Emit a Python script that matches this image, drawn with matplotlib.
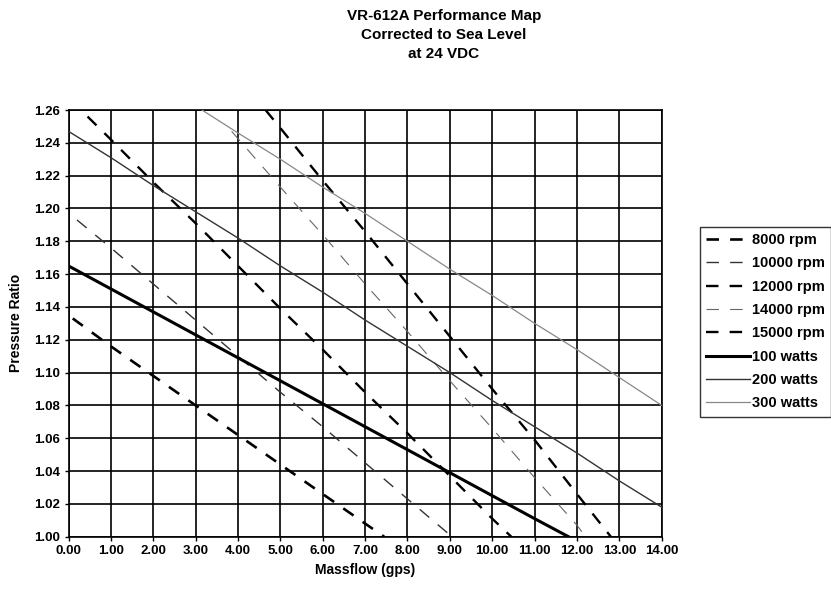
import matplotlib
matplotlib.use("Agg")
import matplotlib.pyplot as plt
from matplotlib.ticker import MultipleLocator, FormatStrFormatter

plt.rcParams['font.family'] = ['Liberation Sans', 'DejaVu Sans']
plt.rcParams['font.weight'] = 'bold'
plt.rcParams['lines.scale_dashes'] = False

# Constant-speed lines (massflow in gps, pressure ratio)
rpm_8000_x = [0.1, 1, 2, 3, 4, 5, 6, 7, 7.45]
rpm_8000_y = [1.133, 1.116, 1.098, 1.080, 1.062, 1.044, 1.026, 1.008, 1.000]

rpm_10000_x = [0.2, 1, 2, 3, 4, 5, 6, 7, 8, 9.05]
rpm_10000_y = [1.193, 1.176, 1.154, 1.132, 1.110, 1.088, 1.067, 1.045, 1.023, 1.000]

rpm_12000_x = [0.45, 1, 2, 3, 4, 5, 6, 7, 8, 9, 10, 10.45]
rpm_12000_y = [1.256, 1.242, 1.216, 1.191, 1.165, 1.139, 1.114, 1.088, 1.063, 1.037, 1.011, 1.000]

rpm_14000_x = [3.85, 5, 6, 7, 8, 9, 10, 11, 12, 12.2]
rpm_14000_y = [1.247, 1.213, 1.184, 1.154, 1.125, 1.095, 1.066, 1.036, 1.007, 1.000]

rpm_15000_x = [4.65, 5, 6, 7, 8, 9, 10, 11, 12, 12.8]
rpm_15000_y = [1.260, 1.249, 1.217, 1.186, 1.154, 1.122, 1.090, 1.059, 1.026, 1.000]

# Constant-power lines
w100_x = [0, 1, 2, 3, 4, 5, 6, 7, 8, 9, 10, 11, 11.8]
w100_y = [1.165, 1.151, 1.137, 1.123, 1.109, 1.095, 1.081, 1.067, 1.053, 1.039, 1.025, 1.011, 1.000]

w200_x = [0, 1, 2, 3, 4, 5, 6, 7, 8, 9, 10, 11, 12, 13, 14]
w200_y = [1.247, 1.231, 1.214, 1.198, 1.182, 1.165, 1.149, 1.132, 1.116, 1.100,
          1.083, 1.067, 1.051, 1.034, 1.018]

w300_x = [3.15, 4, 5, 6, 7, 8, 9, 10, 11, 12, 13, 14]
w300_y = [1.260, 1.246, 1.230, 1.213, 1.197, 1.180, 1.163, 1.147, 1.130, 1.114, 1.097, 1.080]

W, H = 831, 589
fig = plt.figure(figsize=(W / 100, H / 100), dpi=100)
ax = fig.add_axes([68.5 / W, 1 - 536.7 / H, (661.7 - 68.5) / W, (536.7 - 110) / H])

dash = (0, (9, 8))
series = [
    (rpm_8000_x, rpm_8000_y, "8000 rpm", "black", 1.9, dash),
    (rpm_10000_x, rpm_10000_y, "10000 rpm", "#333333", 1.0, dash),
    (rpm_12000_x, rpm_12000_y, "12000 rpm", "black", 1.7, dash),
    (rpm_14000_x, rpm_14000_y, "14000 rpm", "#666666", 0.8, dash),
    (rpm_15000_x, rpm_15000_y, "15000 rpm", "black", 1.7, dash),
    (w100_x, w100_y, "100 watts", "black", 2.2, "-"),
    (w200_x, w200_y, "200 watts", "#333333", 1.0, "-"),
    (w300_x, w300_y, "300 watts", "#888888", 0.9, "-"),
]
for xs, ys, label, color, lw, ls in series:
    ax.plot(xs, ys, color=color, lw=lw, linestyle=ls, label=label, zorder=3)

ax.set_xlim(0, 14)
ax.set_ylim(1.00, 1.26)
ax.xaxis.set_major_locator(MultipleLocator(1))
ax.yaxis.set_major_locator(MultipleLocator(0.02))
ax.xaxis.set_major_formatter(FormatStrFormatter('%.2f'))
ax.yaxis.set_major_formatter(FormatStrFormatter('%.2f'))
ax.grid(True, color='black', lw=1.2, zorder=1)
for s in ax.spines.values():
    s.set_color('black')
    s.set_linewidth(1.2)
ax.tick_params(axis='both', direction='out', length=3, width=1, color='black',
               labelsize=9.5)
ax.tick_params(axis='x', pad=3)
ax.tick_params(axis='y', pad=3)
for t in ax.get_xticklabels() + ax.get_yticklabels():
    t.set_fontweight('bold')

ax.set_xlabel("Massflow (gps)", fontsize=10, fontweight='bold', labelpad=4)
ax.set_ylabel("Pressure Ratio", fontsize=10, fontweight='bold', labelpad=8)

fig.text(444 / W, 1 - 35 / H,
         "VR-612A Performance Map\nCorrected to Sea Level\nat 24 VDC",
         ha='center', va='center', fontsize=11, fontweight='bold', linespacing=1.45)

leg = ax.legend(loc='upper left', bbox_to_anchor=(700 / W, 1 - 227 / H),
                bbox_transform=fig.transFigure, borderaxespad=0,
                frameon=True, fancybox=False, edgecolor='black', fontsize=10.5,
                handlelength=3.0, handletextpad=0.15, labelspacing=0.64,
                borderpad=0.42)
leg.get_frame().set_linewidth(1.0)
for t in leg.get_texts():
    t.set_fontweight('bold')

fig.savefig("out.png", dpi=100)
